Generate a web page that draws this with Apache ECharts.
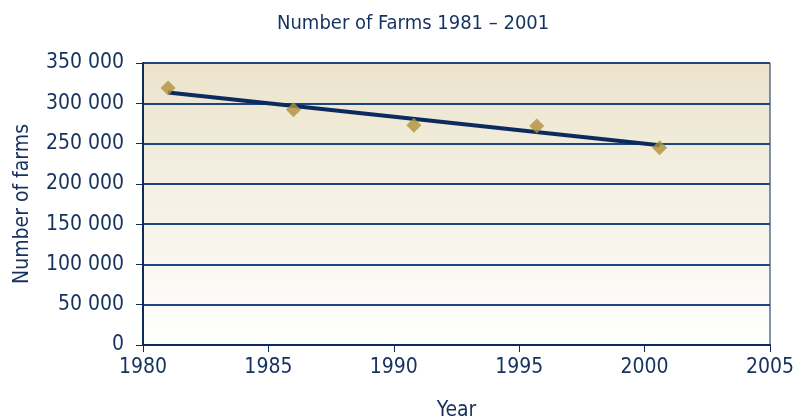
<!DOCTYPE html>
<html>
<head>
<meta charset="utf-8">
<style>
  html, body { margin: 0; padding: 0; background: #ffffff; }
  #chart { width: 800px; height: 419px; }
</style>
<script src="https://cdn.jsdelivr.net/npm/echarts@6/dist/echarts.min.js"></script>
</head>
<body>
<div id="chart"></div>
<script>
// Census points (x position as drawn on the chart)
const years = [1981, 1986, 1990.8, 1995.7, 2000.6];
const farms = [319000, 292000, 272600, 271800, 244900];

// Trend line end points
const trendYears = [1981, 2000.6];
const trendFarms = [313500, 248000];

const navy = '#0b2b5e';
const textColor = '#15325f';
const font = '"Liberation Sans Narrow", "DejaVu Sans Condensed", sans-serif';

function spaced(v) {
    return String(v).replace(/\B(?=(\d{3})+(?!\d))/g, ' ');
}

const chart = echarts.init(document.getElementById('chart'));

const option = {
    animation: false,
    title: {
        text: 'Number of Farms 1981 \u2013 2001',
        left: 272,
        top: 9,
        textStyle: {
            color: textColor,
            fontFamily: font,
            fontWeight: 'normal',
            fontSize: 20
        }
    },
    grid: {
        left: 143,
        top: 63,
        width: 627,
        height: 282,
        outerBoundsMode: 'none',
        containLabel: false,
        show: true,
        borderColor: navy,
        borderWidth: 1,
        backgroundColor: {
            type: 'linear', x: 0, y: 0, x2: 0, y2: 1,
            colorStops: [
                { offset: 0, color: '#ebe3cb' },
                { offset: 1, color: '#ffffff' }
            ]
        }
    },
    xAxis: {
        type: 'value',
        min: 1980,
        max: 2005,
        interval: 5,
        name: 'Year',
        nameLocation: 'middle',
        nameGap: 55,
        nameTextStyle: { color: textColor, fontFamily: font, fontSize: 21 },
        axisLine: { lineStyle: { color: navy, width: 2 } },
        axisTick: { length: 7, lineStyle: { color: navy, width: 1 } },
        axisLabel: {
            color: textColor, fontFamily: font, fontSize: 21, margin: 12,
            formatter: v => String(v)
        },
        splitLine: { show: false }
    },
    yAxis: {
        type: 'value',
        min: 0,
        max: 350000,
        interval: 50000,
        name: 'Number of farms',
        nameLocation: 'middle',
        nameGap: 110,
        nameTextStyle: { color: textColor, fontFamily: font, fontSize: 21 },
        axisLine: { show: true, lineStyle: { color: navy, width: 2 } },
        axisTick: { show: true, length: 7, lineStyle: { color: navy, width: 1 } },
        axisLabel: {
            color: textColor, fontFamily: font, fontSize: 21, margin: 19,
            formatter: spaced
        },
        splitLine: { show: true, lineStyle: { color: '#1d4680', width: 2 } }
    },
    series: [
        {
            name: 'Trend',
            type: 'line',
            data: trendYears.map((y, i) => [y, trendFarms[i]]),
            showSymbol: false,
            lineStyle: { color: navy, width: 4 },
            z: 2
        },
        {
            name: 'Farms',
            type: 'scatter',
            data: years.map((y, i) => [y, farms[i]]),
            symbol: 'diamond',
            symbolSize: [15, 15],
            itemStyle: { color: '#b0913a' },
            z: 3
        }
    ]
};

chart.setOption(option);
</script>
</body>
</html>
